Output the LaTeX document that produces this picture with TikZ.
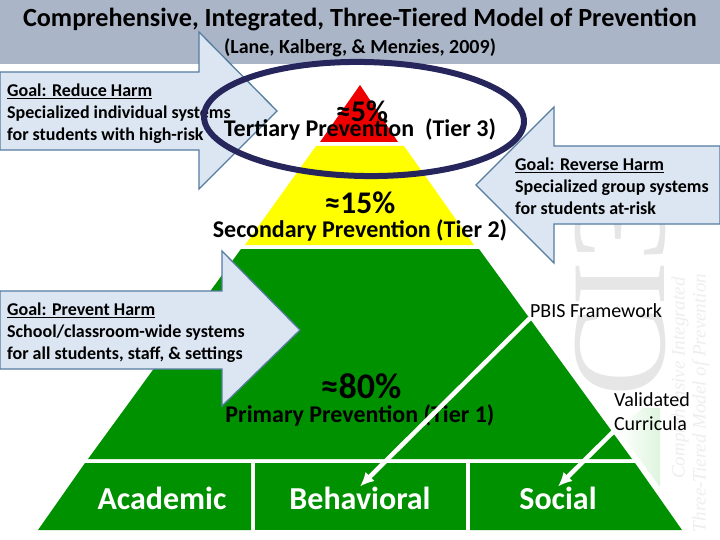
\documentclass[tikz,border=0pt]{standalone}
\usepackage{fontspec}
\setmainfont{Carlito}
\newfontfamily\markfont{Liberation Serif}
\usepackage{xcolor}
\usetikzlibrary{positioning,arrows.meta,shapes.geometric}
\definecolor{tierhead}{RGB}{170,182,199}
\definecolor{tiergreen}{RGB}{0,145,0}
\definecolor{tierred}{RGB}{238,0,0}
\definecolor{tieryellow}{RGB}{255,255,0}
\definecolor{goalfill}{RGB}{220,230,242}
\definecolor{goalline}{RGB}{84,124,160}
\definecolor{ringblue}{RGB}{38,38,92}
\definecolor{markgray}{RGB}{230,230,230}
\definecolor{marklight}{RGB}{238,238,238}
\definecolor{marktint}{RGB}{222,245,222}
\begin{document}
\begin{tikzpicture}[x=1pt,y=-1pt,
  goalarrow/.style={draw=goalline,fill=goalfill,line width=1.3pt},
  goaltext/.style={font=\fontsize{18}{21.7}\selectfont\bfseries,align=left,inner sep=0pt,anchor=north west},
  tierpct/.style={font=\fontsize{#1}{#1}\selectfont\bfseries,inner sep=0pt},
  tiername/.style={font=\fontsize{24}{24}\selectfont\bfseries,inner sep=0pt},
  pillar/.style={font=\fontsize{32}{32}\selectfont\bfseries,text=white,inner sep=0pt},
  remark/.style={font=\fontsize{20}{24}\selectfont,align=left,inner sep=0pt},
  marktext/.style={rotate=90,text=marklight,font=\markfont\fontsize{19}{19}\selectfont\itshape,inner sep=0pt},
  whitearrow/.style={-{Latex[length=14pt,width=13pt]},white,line width=4.5pt}]
  \useasboundingbox (0,0) rectangle (720,540);
  \fill[white] (0,0) rectangle (720,540);
  % watermark
  \node[rotate=90,text=markgray,font=\markfont\fontsize{135}{135}\selectfont,inner sep=0pt] (mark) at (620,295) {CI3};
  \node[marktext] (markone) at (680,378) {Comprehensive Integrated};
  \node[marktext] (marktwo) at (701,403) {Three-Tiered Model of Prevention};
  \shade[left color=white,right color=marktint] (618,430) -- (643,408) -- (660,408) -- (660,487) -- cycle;
  % header
  \fill[tierhead] (0,0) rectangle (720,64);
  \node[font=\fontsize{26.2}{26}\selectfont\bfseries,inner sep=0pt] (title) at (360,20) {Comprehensive, Integrated, Three-Tiered Model of Prevention};
  \node[font=\fontsize{20}{20}\selectfont\bfseries,inner sep=0pt] (cite) at (360,48) {(Lane, Kalberg, \& Menzies, 2009)};
  % pyramid
  \fill[tierred] (360,85) -- (398,142) -- (320,142) -- cycle;
  \fill[tieryellow] (316,146) -- (404,146) -- (474,245) -- (245,245) -- cycle;
  \fill[tiergreen] (241,249) -- (479,249) -- (632,459) -- (88,459) -- cycle;
  \fill[tiergreen] (85,463) -- (251,463) -- (251,530) -- (38,530) -- cycle;
  \fill[tiergreen] (255,463) -- (466,463) -- (466,530) -- (255,530) -- cycle;
  \fill[tiergreen] (470,463) -- (635,463) -- (682,530) -- (470,530) -- cycle;
  % goal arrows
  \draw[goalarrow] (0,72) -- (199,72) -- (199,32) -- (277,111) -- (199,189) -- (199,150) -- (0,150) -- cycle;
  \draw[goalarrow] (0,291) -- (222,291) -- (222,251) -- (300,330) -- (222,406) -- (222,369) -- (0,369) -- cycle;
  \draw[goalarrow] (720,146) -- (554,146) -- (554,107) -- (476,185) -- (554,263) -- (554,224) -- (720,224) -- cycle;
  \node[goaltext] (reduce) at (7,84) {\underline{Goal: Reduce Harm}\\Specialized individual systems\\for students with high-risk};
  \node[goaltext] (prevent) at (7,303) {\underline{Goal: Prevent Harm}\\School/classroom-wide systems\\for all students, staff, \& settings};
  \node[goaltext] (reverse) at (515,158) {\underline{Goal: Reverse Harm}\\Specialized group systems\\for students at-risk};
  % ring
  \draw[ringblue,line width=6pt,rotate around={-1:(364,119)}] (364,119) ellipse [x radius=160,y radius=57];
  % tier labels
  \node[tierpct=30] (pctthree) at (362,111) {≈5\%};
  \node[tiername] (namethree) at (360,129) {Tertiary Prevention\ \ (Tier 3)};
  \node[tierpct=31.5] (pcttwo) at (360,203) {≈15\%};
  \node[tiername] (nametwo) at (360,230) {Secondary Prevention (Tier 2)};
  \node[tierpct=36] (pctone) at (361,386) {≈80\%};
  \node[tiername] (nameone) at (360,415) {Primary Prevention (Tier 1)};
  \node[pillar] (academic) at (162,498) {Academic};
  \node[pillar] (behavioral) at (360,498) {Behavioral};
  \node[pillar] (social) at (558,498) {Social};
  \node[remark] (pbis) at (596,311) {PBIS Framework};
  \node[remark] (curricula) at (652,412) {Validated\\Curricula};
  \draw[whitearrow] (pbis.south west) -- (behavioral.north);
  \draw[whitearrow] (curricula.south west) -- (social.north);
\end{tikzpicture}
\end{document}
